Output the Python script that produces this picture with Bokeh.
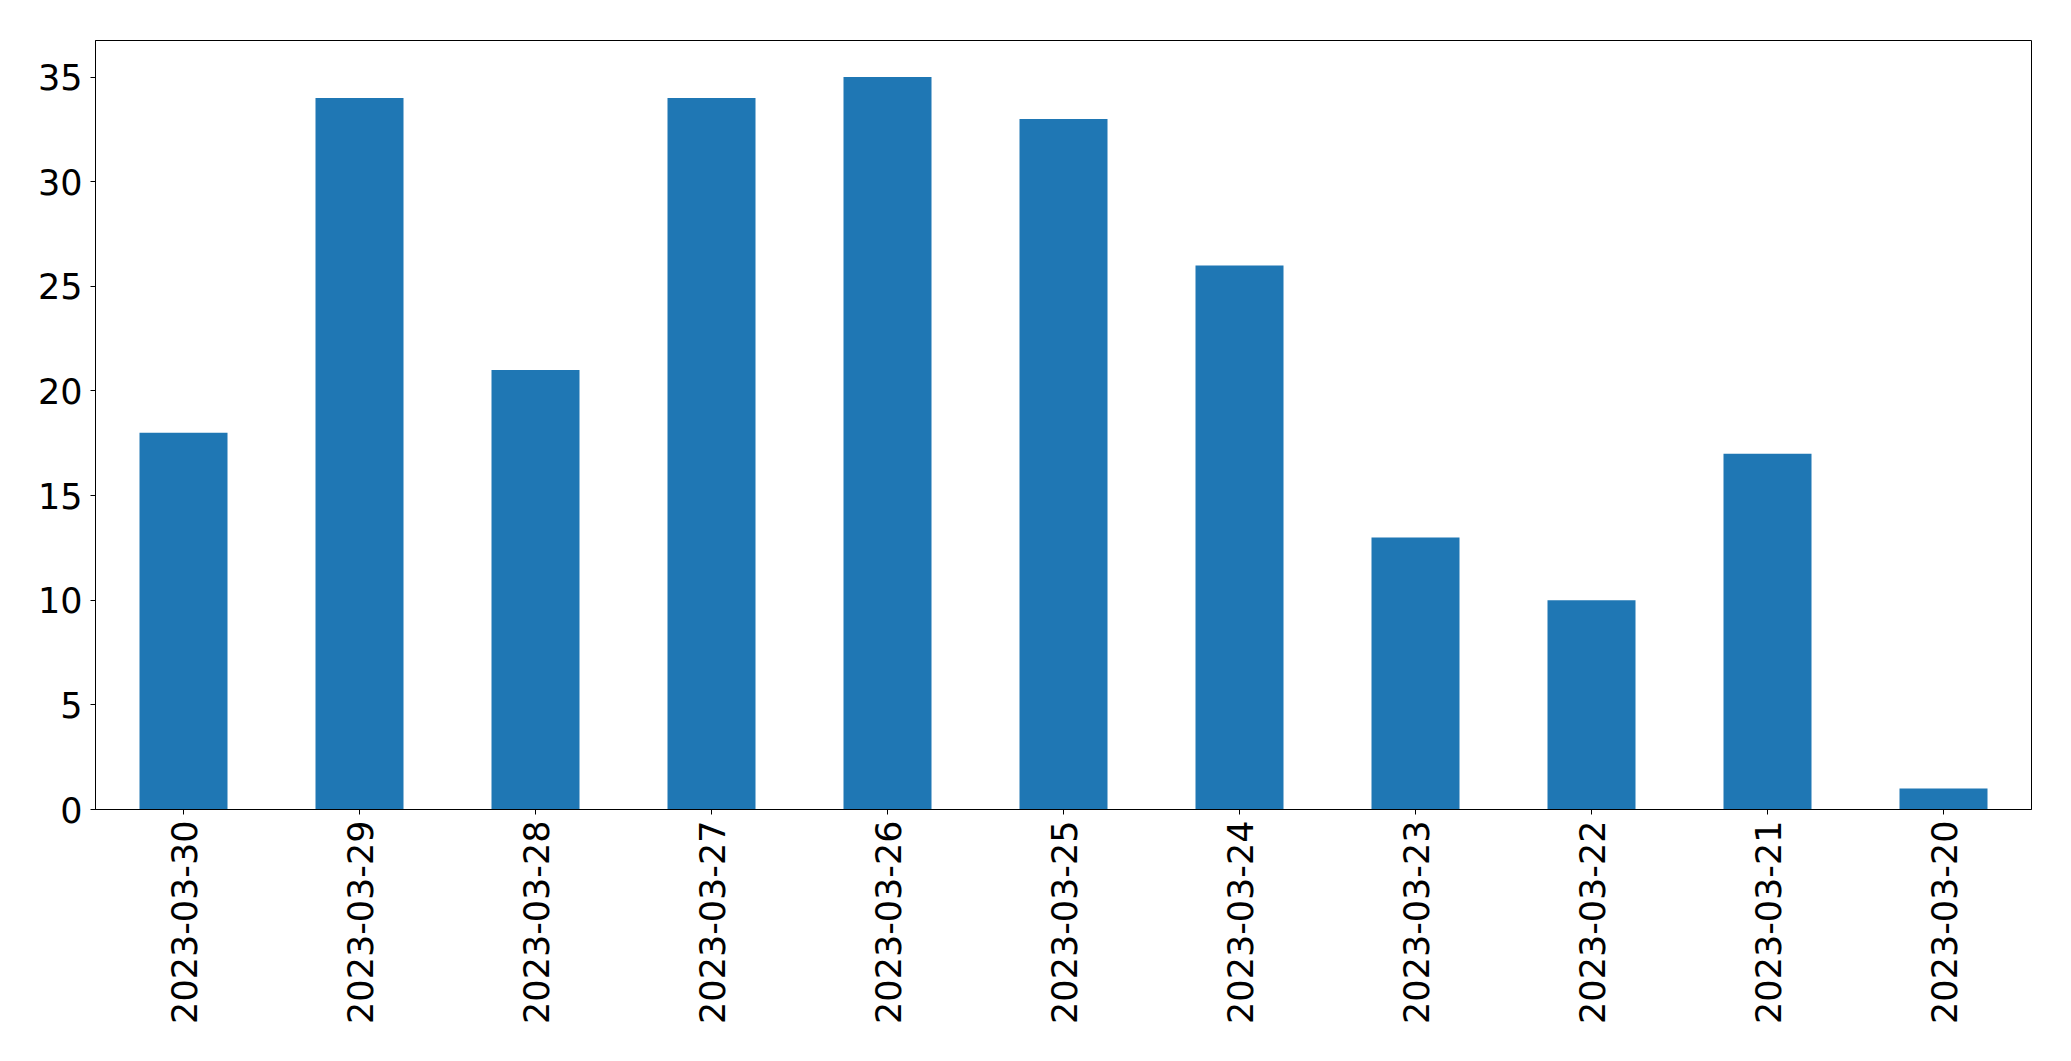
import math
from bokeh.plotting import figure
from bokeh.models import FactorRange, Range1d, FixedTicker, ColumnDataSource
from bokeh.embed import file_html
from bokeh.resources import INLINE

dates = ["2023-03-30", "2023-03-29", "2023-03-28", "2023-03-27", "2023-03-26",
         "2023-03-25", "2023-03-24", "2023-03-23", "2023-03-22", "2023-03-21",
         "2023-03-20"]
counts = [18, 34, 21, 34, 35, 33, 26, 13, 10, 17, 1]
y_ticks = [0, 5, 10, 15, 20, 25, 30, 35]

src = ColumnDataSource(dict(date=dates, count=counts))

p = figure(width=2063, height=1048, x_range=FactorRange(*dates),
           y_range=Range1d(0, 36.75), output_backend="svg",
           toolbar_location=None, tools="")
p.min_border_left = 95
p.min_border_right = 32
p.min_border_top = 40
p.min_border_bottom = 239

p.vbar(x="date", top="count", width=0.5, source=src,
       fill_color="#1f77b4", line_color=None)

p.xgrid.visible = False
p.ygrid.visible = False
p.outline_line_color = "black"
p.outline_line_width = 1
p.outline_line_alpha = 1

for ax in (p.xaxis, p.yaxis):
    ax.axis_line_color = "black"
    ax.major_tick_line_color = "black"
    ax.major_tick_out = 5
    ax.major_tick_in = 0
    ax.minor_tick_line_color = None
    ax.major_label_text_font = "DejaVu Sans"
    ax.major_label_text_font_size = "35px"
    ax.major_label_text_color = "black"

p.yaxis.ticker = FixedTicker(ticks=y_ticks)
p.yaxis.major_label_standoff = 8
p.xaxis.major_label_orientation = math.pi / 2
p.xaxis.major_label_standoff = 6

open("out.html", "w").write(file_html(p, INLINE))
